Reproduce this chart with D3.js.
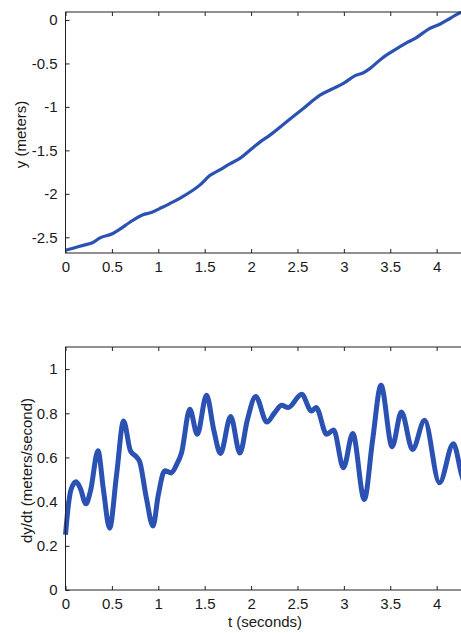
<!DOCTYPE html>
<html><head><meta charset="utf-8">
<script src="https://cdn.jsdelivr.net/npm/d3@7"></script>
<style>
html,body{margin:0;padding:0;background:#fff;overflow:hidden;}
text{font-family:"Liberation Sans",Arial,sans-serif;fill:#1a1a1a;}
</style></head>
<body>
<svg id="c" width="461" height="633"></svg>
<script>
// ---- data ----
const posT = [0,0.1,0.2,0.295,0.367,0.51,0.583,0.69,0.835,0.925,1.015,1.16,1.25,1.447,1.555,1.663,1.771,1.879,1.987,2.095,2.203,2.383,2.563,2.743,2.887,2.995,3.121,3.211,3.283,3.409,3.535,3.679,3.769,3.913,4.039,4.147,4.255,4.3];
const posY = [-2.65,-2.62,-2.59,-2.56,-2.51,-2.457,-2.41,-2.33,-2.24,-2.216,-2.17,-2.093,-2.04,-1.90,-1.79,-1.725,-1.655,-1.593,-1.498,-1.405,-1.325,-1.171,-1.018,-0.864,-0.787,-0.73,-0.64,-0.607,-0.557,-0.442,-0.353,-0.26,-0.211,-0.105,-0.046,0.02,0.084,0.092];
const velT = [0,0.03,0.06,0.115,0.16,0.22,0.27,0.35,0.41,0.475,0.55,0.626,0.7,0.77,0.8,0.87,0.943,1.0,1.07,1.14,1.2,1.25,1.34,1.42,1.52,1.6,1.67,1.78,1.88,1.96,2.05,2.17,2.25,2.33,2.40,2.545,2.65,2.70,2.815,2.89,2.995,3.096,3.22,3.31,3.40,3.52,3.62,3.74,3.87,4.03,4.18,4.27,4.3];
const velV = [0.25,0.38,0.455,0.49,0.46,0.39,0.45,0.63,0.45,0.28,0.52,0.765,0.63,0.60,0.58,0.42,0.29,0.43,0.54,0.53,0.57,0.62,0.818,0.705,0.882,0.72,0.618,0.785,0.62,0.77,0.876,0.76,0.80,0.836,0.826,0.886,0.81,0.826,0.705,0.724,0.553,0.708,0.41,0.68,0.927,0.649,0.806,0.636,0.768,0.485,0.662,0.52,0.48];
const xTicks = [0,0.5,1,1.5,2,2.5,3,3.5,4];
const xTickLabels = ["0","0.5","1","1.5","2","2.5","3","3.5","4"];
const posTicks = [-2.5,-2,-1.5,-1,-0.5,0];
const posTickLabels = ["-2.5","-2","-1.5","-1","-0.5","0"];
const velTicks = [0,0.2,0.4,0.6,0.8,1];
const velTickLabels = ["0","0.2","0.4","0.6","0.8","1"];
const xLabel = "t (seconds)";
const posLabel = "y (meters)";
const velLabel = "dy/dt (meters/second)";

const svg = d3.select("#c");
const L = 65.5, R = 464.5;
const lineColor = "#2b52b3";

function panel(opt){
  const x = d3.scaleLinear().domain([0,4.3]).range([L,R]);
  const y = d3.scaleLinear().domain(opt.ydom).range([opt.bottom,opt.top]);
  const g = svg.append("g");
  const xb = d3.axisBottom(x).tickValues(xTicks).tickFormat((d,i)=>xTickLabels[i]).tickSizeInner(-4).tickSizeOuter(0).tickPadding(8);
  const ga = g.append("g").attr("transform",`translate(0,${opt.bottom})`).call(xb);
  ga.select(".domain").remove();
  ga.selectAll("text").attr("font-size",15).attr("dy","0.75em");
  const xt = d3.axisTop(x).tickValues(xTicks).tickFormat("").tickSizeInner(-4).tickSizeOuter(0);
  const gt = g.append("g").attr("transform",`translate(0,${opt.top})`).call(xt);
  gt.select(".domain").remove();
  const yl = d3.axisLeft(y).tickValues(opt.yticks).tickFormat((d,i)=>opt.ylabels[i]).tickSizeInner(-4).tickSizeOuter(0).tickPadding(8);
  const gl = g.append("g").attr("transform",`translate(${L},0)`).call(yl);
  gl.select(".domain").remove();
  gl.selectAll("text").attr("font-size",15);
  g.selectAll(".tick line").attr("stroke","#222");
  const ln = d3.line().x((d,i)=>x(opt.t[i])).y(d=>y(d)).curve(opt.curve);
  g.append("path").datum(opt.v).attr("d",ln).attr("fill","none")
    .attr("stroke",lineColor).attr("stroke-width",opt.sw).attr("stroke-linejoin","round");
  g.append("rect").attr("x",L).attr("y",opt.top).attr("width",R-L).attr("height",opt.bottom-opt.top)
    .attr("fill","none").attr("stroke","#222").attr("stroke-width",1);
  g.append("text").attr("transform",`translate(${opt.ylx},${(opt.top+opt.bottom)/2+2}) rotate(-90)`)
    .attr("text-anchor","middle").attr("font-size",15).text(opt.ylabel);
}

panel({top:12,bottom:253,ydom:[-2.681,0.092],yticks:posTicks,ylabels:posTickLabels,
       t:posT,v:posY,sw:3.2,curve:d3.curveMonotoneX,ylabel:posLabel,ylx:25.5});
panel({top:347,bottom:590,ydom:[0,1.1],yticks:velTicks,ylabels:velTickLabels,
       t:velT,v:velV,sw:5,curve:d3.curveMonotoneX,ylabel:velLabel,ylx:32});

svg.append("text").attr("x",(L+R)/2).attr("y",627).attr("text-anchor","middle")
  .attr("font-size",15).text(xLabel);
</script>
</body></html>
